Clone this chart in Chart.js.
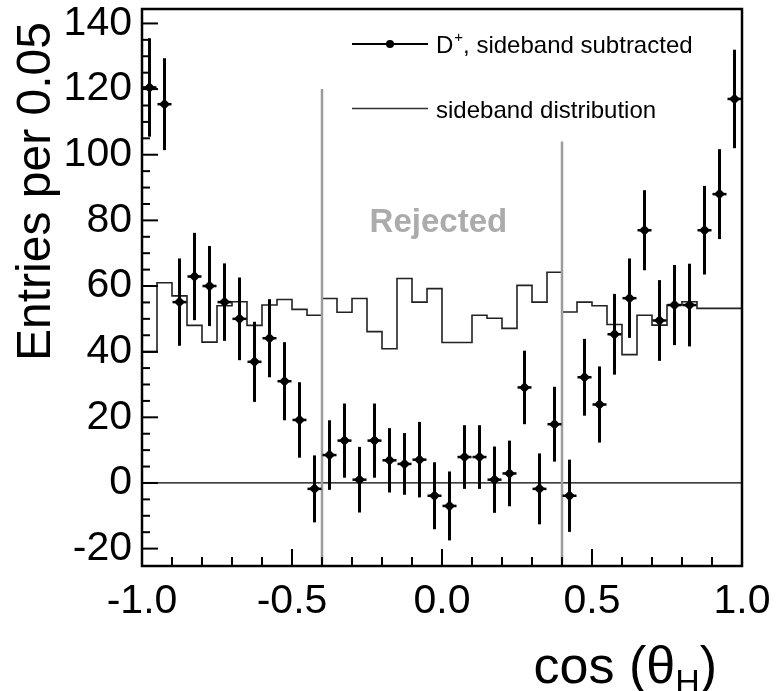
<!DOCTYPE html>
<html>
<head>
<meta charset="utf-8">
<title>cos(theta_H) distribution</title>
<script src="https://cdn.jsdelivr.net/npm/chart.js@4.4.1/dist/chart.umd.min.js"></script>
<style>
    html, body { margin: 0; padding: 0; background: #fff; }
    #wrap { width: 778px; height: 691px; }
</style>
</head>
<body>
<div id="wrap"><canvas id="grafico" width="778" height="691"></canvas></div>
<script>

// bin centres, width 0.05
const cosBins = [
    -0.975, -0.925, -0.875, -0.825, -0.775, -0.725, -0.675, -0.625, -0.575, -0.525,
    -0.475, -0.425, -0.375, -0.325, -0.275, -0.225, -0.175, -0.125, -0.075, -0.025,
    0.025, 0.075, 0.125, 0.175, 0.225, 0.275, 0.325, 0.375, 0.425, 0.475,
    0.525, 0.575, 0.625, 0.675, 0.725, 0.775, 0.825, 0.875, 0.925, 0.975
]
const BIN_HALF = 0.025

// D+, sideband subtracted
const dSub = [
    120.5, 115.4, 55.1, 62.9, 60.0, 55.1, 50.0, 36.9, 44.1, 31.0,
    19.2, -1.8, 8.5, 12.9, 1.0, 12.9, 6.9, 5.8, 7.1, -3.9,
    -7.0, 7.9, 7.9, 1.0, 2.9, 29.1, -1.8, 17.9, -3.9, 32.2,
    23.9, 45.3, 56.3, 77.0, 49.5, 54.2, 54.2, 77.0, 88.0, 117.0
]
const dErr = [
    15.0, 14.0, 13.3, 13.3, 12.2, 11.8, 12.6, 12.2, 11.9, 11.9,
    11.5, 10.2, 10.6, 11.3, 10.0, 11.3, 9.8, 9.4, 11.5, 10.2,
    10.5, 9.7, 9.7, 10.1, 10.0, 11.2, 10.8, 11.4, 11.0, 11.7,
    11.6, 12.3, 12.1, 12.2, 12.3, 12.2, 12.6, 13.5, 13.7, 15.0
]

// sideband distribution (histogram)
const sideband = [
    53.1, 39.8, 61.0, 57.0, 48.0, 42.9, 54.0, 55.2, 48.0, 54.2,
    55.9, 52.9, 51.1, 56.2, 52.0, 56.2, 46.1, 40.9, 62.3, 55.1,
    59.2, 42.8, 42.8, 51.1, 50.2, 47.1, 60.2, 55.1, 64.2, 52.1,
    55.1, 54.0, 48.3, 39.1, 51.1, 48.1, 54.2, 55.2, 53.2, 53.2
]

const xTicks = [-1.0, -0.5, 0.0, 0.5, 1.0]
const yTicks = [-20, 0, 20, 40, 60, 80, 100, 120, 140]
const cutPos = [-0.4, 0.4]
const cutTop = [120, 104]
const Y_MIN = -25.3
const Y_MAX = 144.4

const FONT = '"Liberation Sans", Arial, Helvetica, sans-serif'

const histPoints = () => {

    const pts = cosBins.map((c, i) => ({ x: c - BIN_HALF, y: sideband[i] }))
    const last = cosBins.length - 1
    pts.push({ x: cosBins[last] + BIN_HALF, y: sideband[last] })
    return pts
}

const cutLine = (k) => [{ x: cutPos[k], y: Y_MIN }, { x: cutPos[k], y: cutTop[k] }]

const line = (ctx, x1, y1, x2, y2) => {

    ctx.beginPath()
    ctx.moveTo(x1, y1)
    ctx.lineTo(x2, y2)
    ctx.stroke()
}

const decor = {
    id: 'decor',

    beforeDatasetsDraw: (chart) => {

        const { ctx, chartArea: a, scales: { y } } = chart
        const y0 = y.getPixelForValue(0)
        ctx.save()
        ctx.strokeStyle = '#000'
        ctx.lineWidth = 1.3
        line(ctx, a.left, y0, a.right, y0)
        ctx.restore()
    },

    afterDatasetsDraw: (chart) => {

        const { ctx, chartArea: a, scales: { x, y } } = chart
        ctx.save()

        // error bars
        ctx.strokeStyle = '#000'
        ctx.lineCap = 'butt'
        cosBins.forEach((c, i) => {

            const px = x.getPixelForValue(c)
            const py = y.getPixelForValue(dSub[i])
            ctx.lineWidth = 3
            line(ctx, px, y.getPixelForValue(dSub[i] + dErr[i]), px, y.getPixelForValue(dSub[i] - dErr[i]))
            ctx.lineWidth = 2.5
            line(ctx, px - 7, py, px + 7, py)
        })

        // frame
        ctx.lineWidth = 2.5
        ctx.strokeRect(a.left, a.top, a.right - a.left, a.bottom - a.top)

        // inward ticks
        ctx.lineWidth = 2
        for (let k = -10; k <= 10; k++) {

            const px = x.getPixelForValue(k / 10)
            const len = k % 5 === 0 ? 17 : 9
            line(ctx, px, a.bottom, px, a.bottom - len)
        }
        for (let v = -20; v <= 140; v += 5) {

            const py = y.getPixelForValue(v)
            const len = v % 20 === 0 ? 16 : 8
            line(ctx, a.left, py, a.left + len, py)
        }

        // legend
        ctx.fillStyle = '#000'
        ctx.lineWidth = 2
        line(ctx, 352, 44, 428, 44)
        ctx.beginPath()
        ctx.arc(390, 44, 4, 0, Math.PI * 2)
        ctx.fill()
        ctx.strokeStyle = '#333'
        ctx.lineWidth = 1.6
        line(ctx, 352, 108.5, 428, 108.5)

        ctx.textAlign = 'left'
        ctx.textBaseline = 'alphabetic'
        ctx.font = `24px ${FONT}`
        ctx.fillText('D', 436, 53)
        let cx = 436 + ctx.measureText('D').width + 1
        ctx.font = `15px ${FONT}`
        ctx.fillText('+', cx, 42)
        cx += ctx.measureText('+').width
        ctx.font = `24px ${FONT}`
        ctx.fillText(', sideband subtracted', cx, 53)
        ctx.fillText('sideband distribution', 436, 118)

        // rejected region label
        ctx.font = `bold 33px ${FONT}`
        ctx.fillStyle = '#ababab'
        ctx.textAlign = 'center'
        ctx.fillText('Rejected', x.getPixelForValue(-0.012), y.getPixelForValue(76.5))

        // y title
        ctx.fillStyle = '#000'
        ctx.save()
        ctx.translate(50, 191.5)
        ctx.rotate(-Math.PI / 2)
        ctx.font = `48px ${FONT}`
        ctx.textAlign = 'center'
        ctx.fillText('Entries per 0.05', 0, 0)
        ctx.restore()

        // x title: cos (theta_H)
        ctx.textAlign = 'left'
        ctx.font = `52px ${FONT}`
        const mainTxt = 'cos (θ'
        const wMain = ctx.measureText(mainTxt).width
        const wClose = ctx.measureText(')').width
        ctx.font = `34px ${FONT}`
        const wSub = ctx.measureText('H').width
        let tx = 717 - (wMain + wSub + wClose)
        ctx.font = `52px ${FONT}`
        ctx.fillText(mainTxt, tx, 683)
        tx += wMain
        ctx.font = `34px ${FONT}`
        ctx.fillText('H', tx, 693)
        tx += wSub
        ctx.font = `52px ${FONT}`
        ctx.fillText(')', tx, 683)

        ctx.restore()
    }
}

document.addEventListener("DOMContentLoaded", () => {

    const ctx = document.getElementById('grafico').getContext('2d')

    new Chart(ctx, {
        type: 'scatter',
        data: {
            datasets: [
                {
                    type: 'line',
                    data: cutLine(0),
                    borderColor: '#9c9c9c',
                    borderWidth: 2.5,
                    pointRadius: 0
                },
                {
                    type: 'line',
                    data: cutLine(1),
                    borderColor: '#9c9c9c',
                    borderWidth: 2.5,
                    pointRadius: 0
                },
                {
                    type: 'line',
                    label: 'sideband distribution',
                    data: histPoints(),
                    stepped: 'after',
                    borderColor: '#222',
                    borderWidth: 1.6,
                    pointRadius: 0,
                    fill: false
                },
                {
                    type: 'scatter',
                    label: 'D+, sideband subtracted',
                    data: cosBins.map((c, i) => ({ x: c, y: dSub[i] })),
                    pointStyle: 'rectRot',
                    pointRadius: 5.5,
                    backgroundColor: '#000',
                    borderColor: '#000',
                    borderWidth: 0
                }
            ]
        },

        options: {
            responsive: false,
            animation: false,
            devicePixelRatio: 1,
            layout: { padding: { top: 9, right: 36, left: 0, bottom: 0 } },
            plugins: {
                legend: { display: false },
                tooltip: { enabled: false }
            },
            scales: {
                x: {
                    type: 'linear',
                    min: -1,
                    max: 1,
                    afterBuildTicks: (s) => { s.ticks = xTicks.map(v => ({ value: v })) },
                    afterFit: (s) => {
                        s.height = 125
                        s.paddingLeft = 0
                        s.paddingRight = 0
                    },
                    grid: { display: false, drawTicks: false },
                    border: { display: false },
                    ticks: {
                        color: '#000',
                        font: { family: FONT, size: 41 },
                        padding: 11,
                        maxRotation: 0,
                        autoSkip: false,
                        callback: (v) => Number(v).toFixed(1)
                    }
                },
                y: {
                    type: 'linear',
                    min: Y_MIN,
                    max: Y_MAX,
                    afterBuildTicks: (s) => { s.ticks = yTicks.map(v => ({ value: v })) },
                    afterFit: (s) => {
                        s.width = 142
                        s.paddingTop = 0
                        s.paddingBottom = 0
                    },
                    grid: { display: false, drawTicks: false },
                    border: { display: false },
                    ticks: {
                        color: '#000',
                        font: { family: FONT, size: 41 },
                        padding: 10,
                        autoSkip: false,
                        callback: (v) => String(v)
                    }
                }
            }
        },

        plugins: [decor]
    })
})
</script>
</body>
</html>
